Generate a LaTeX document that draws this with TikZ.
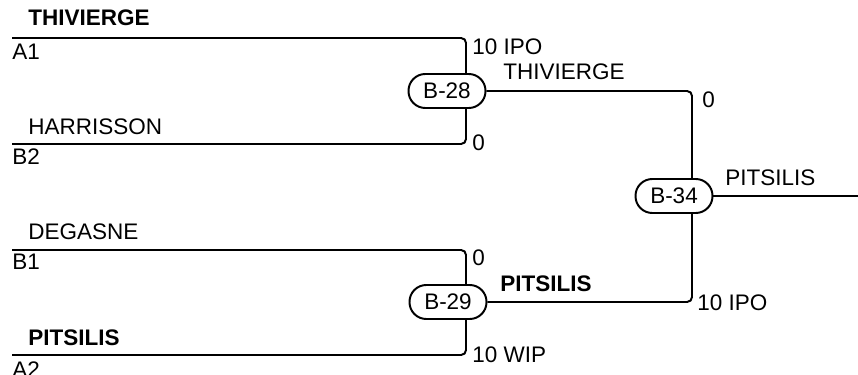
\documentclass[tikz,border=0pt]{standalone}
\usepackage{fontspec}
\setmainfont{Liberation Sans}
\usepackage{tikz}
\usetikzlibrary{arrows}

\tikzset{
  match/.style={draw, rectangle, rounded corners=0.42cm, fill=white, line width=1.4pt,
    minimum width=1.925cm, minimum height=0.85cm, inner sep=0pt},
  lbl/.style={anchor=west, inner sep=0pt},
  win/.style={lbl, font=\bfseries\fontsize{16}{19}\selectfont}
}

\begin{document}
\begin{tikzpicture}[font=\fontsize{16}{19}\selectfont]
\useasboundingbox (0,0) rectangle (21.45,9.35);
% first round
\coordinate (a1) at (0.3,8.4);
\coordinate (b2) at (0.3,5.75);
\coordinate (b1) at (0.3,3.1);
\coordinate (a2) at (0.3,0.475);
\coordinate (j1) at (11.65,0);
\coordinate (j2) at (17.3,0);
\coordinate (out) at (21.45,4.45);
\node[match] (b28) at (11.175,7.075) {B-28};
\node[match] (b29) at (11.2,1.8) {B-29};
\node[match] (b34) at (16.85,4.45) {B-34};
\draw[line width=1.4pt, rounded corners=3.5pt] (a1) -| (b28.north -| j1);
\draw[line width=1.4pt, rounded corners=3.5pt] (b2) -| (b28.south -| j1);
\draw[line width=1.4pt, rounded corners=3.5pt] (b1) -| (b29.north -| j1);
\draw[line width=1.4pt, rounded corners=3.5pt] (a2) -| (b29.south -| j1);
% second round
\draw[line width=1.4pt, rounded corners=3.5pt] (b28.east) -| (b34.north -| j2);
\draw[line width=1.4pt, rounded corners=3.5pt] (b29.east) -| (b34.south -| j2);
\draw[line width=1.4pt] (b34.east) -- (out);
% names and scores
\node[win] (thivierge) at (0.7,8.9) {THIVIERGE};
\node[lbl] (seedA1) at (0.3,8.05) {A1};
\node[lbl] (harrisson) at (0.7,6.175) {HARRISSON};
\node[lbl] (seedB2) at (0.3,5.425) {B2};
\node[lbl] (degasne) at (0.7,3.55) {DEGASNE};
\node[lbl] (seedB1) at (0.3,2.8) {B1};
\node[win] (pitsilis) at (0.7,0.9) {PITSILIS};
\node[lbl] (seedA2) at (0.3,0.1) {A2};
\node[lbl] (s28a) at (11.8,8.175) {10 IPO};
\node[lbl] (s28b) at (11.8,5.775) {0};
\node[lbl] (s29a) at (11.8,2.9) {0};
\node[lbl] (s29b) at (11.8,0.475) {10 WIP};
\node[lbl] (w28) at (12.575,7.55) {THIVIERGE};
\node[win] (w29) at (12.5,2.25) {PITSILIS};
\node[lbl] (s34a) at (17.55,6.85) {0};
\node[lbl] (s34b) at (17.425,1.775) {10 IPO};
\node[lbl] (w34) at (18.125,4.9) {PITSILIS};
\end{tikzpicture}
\end{document}
